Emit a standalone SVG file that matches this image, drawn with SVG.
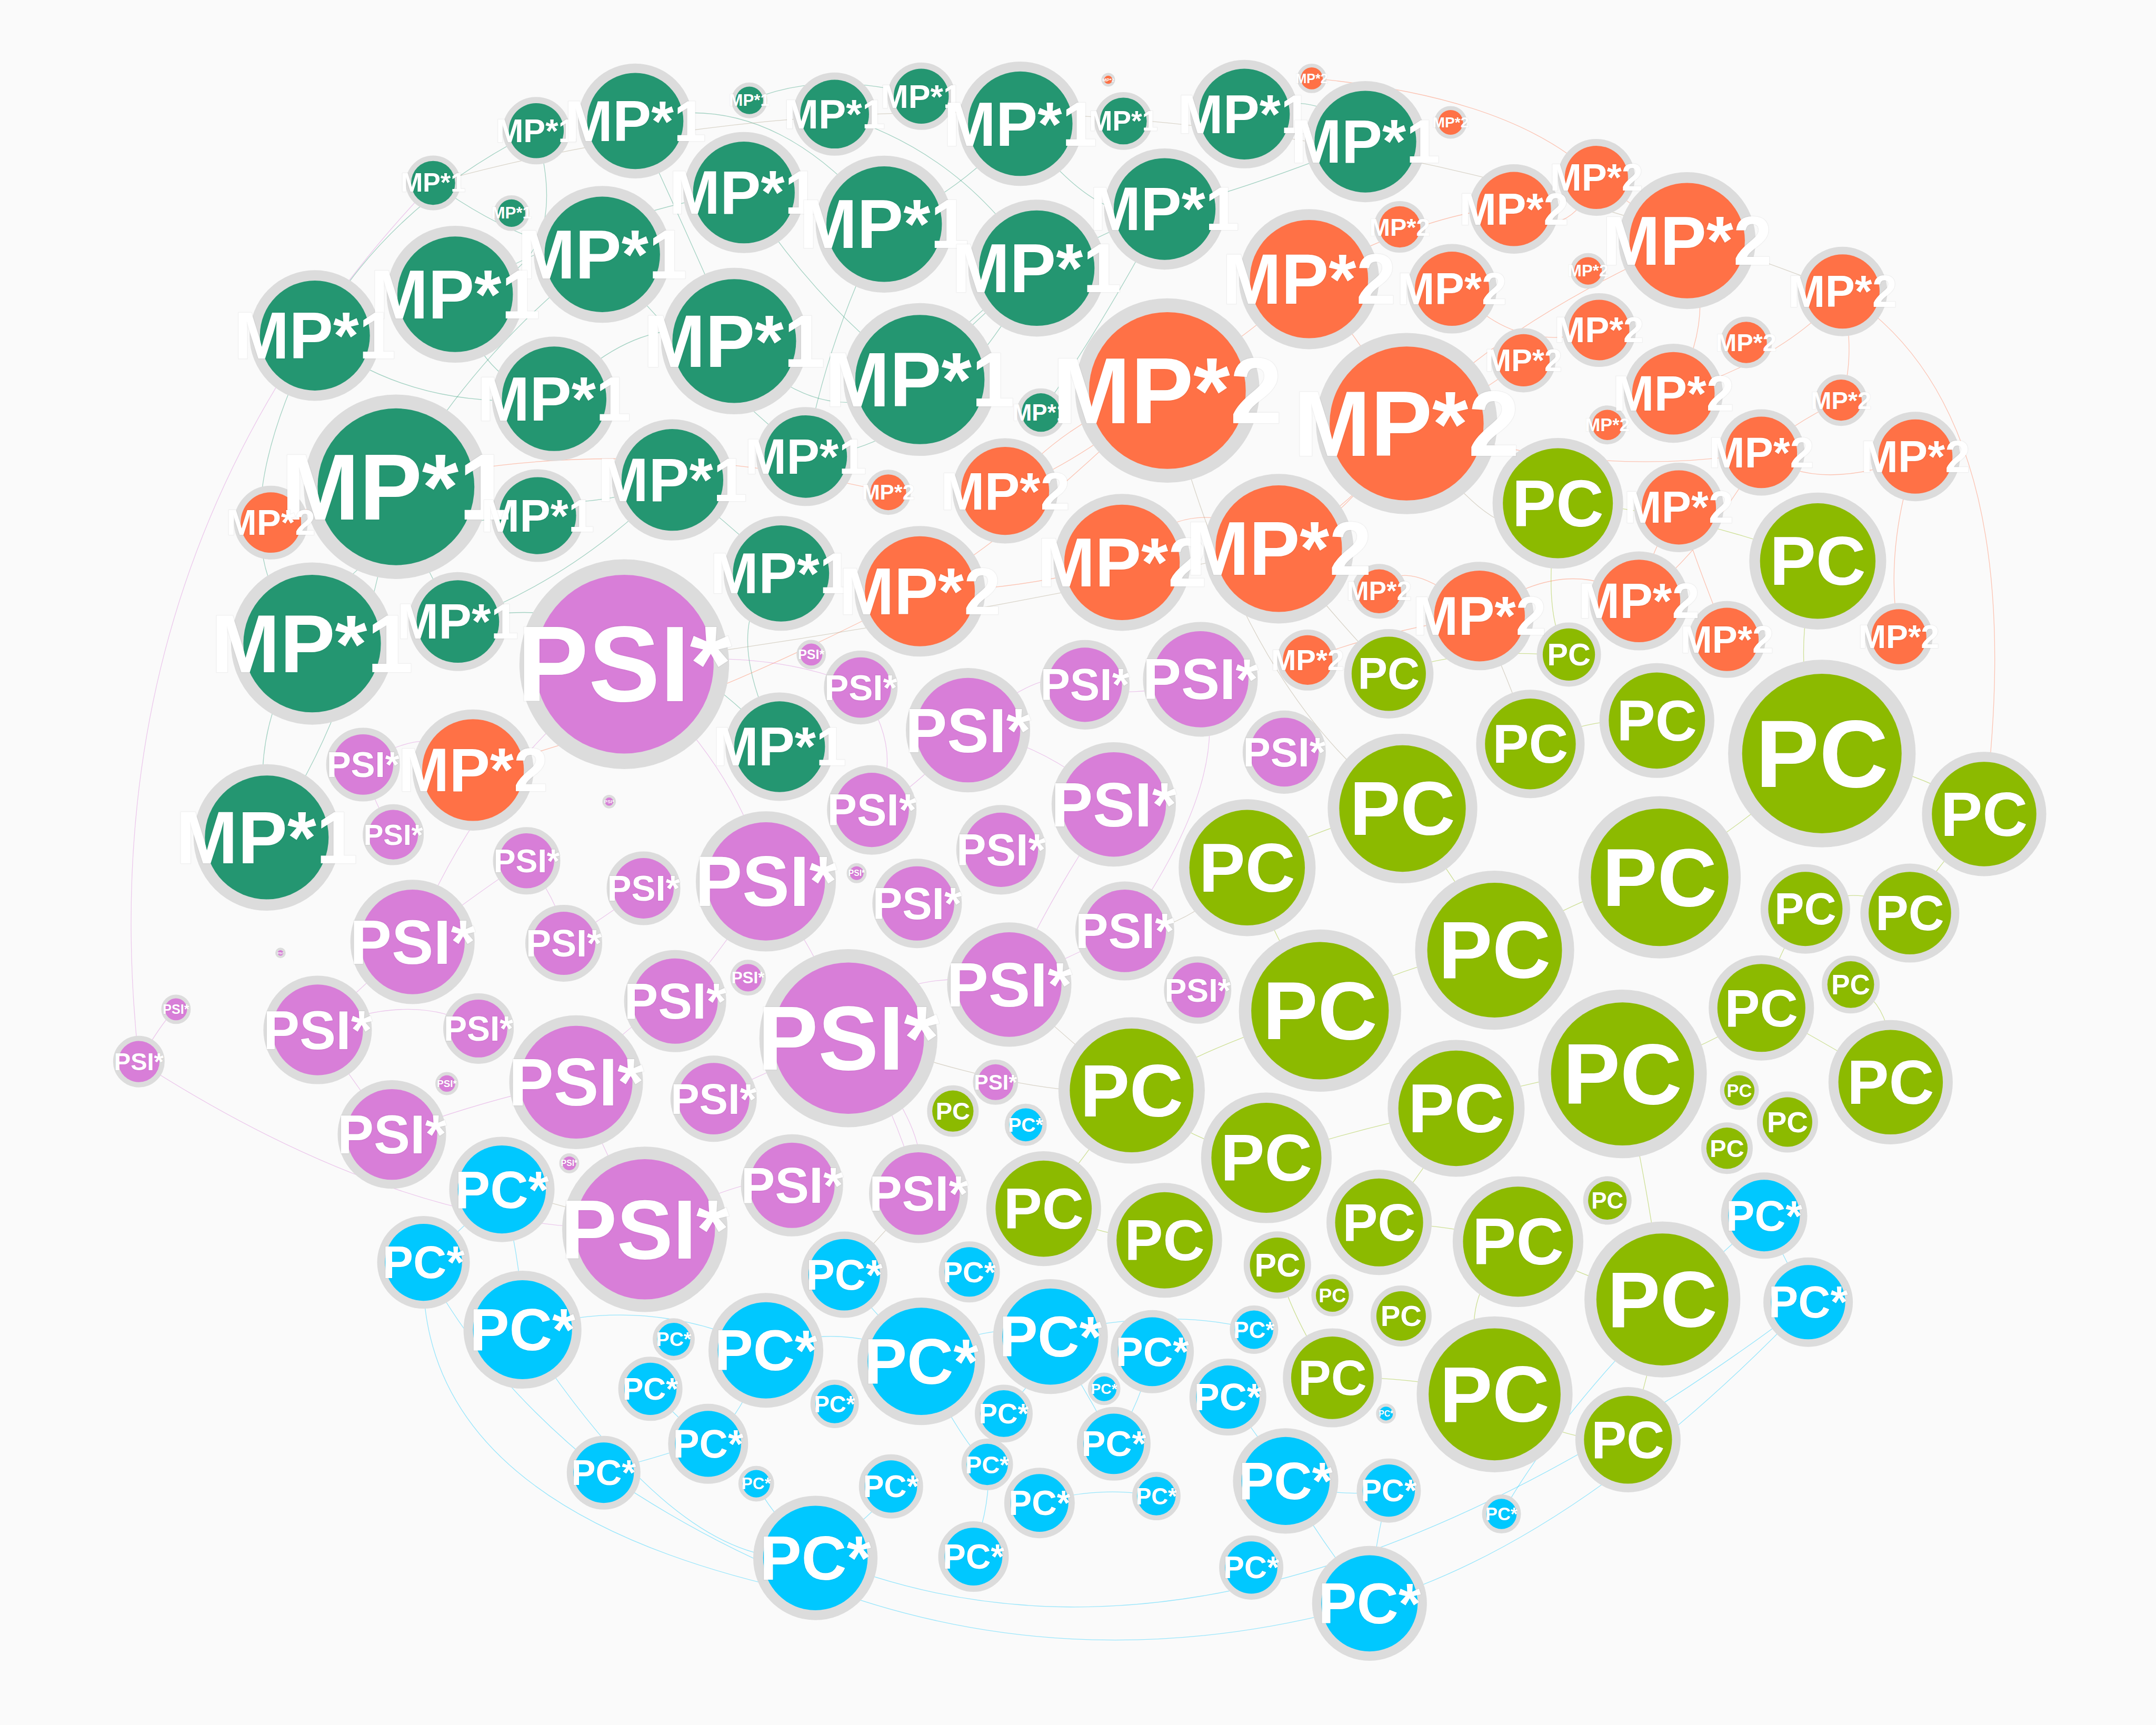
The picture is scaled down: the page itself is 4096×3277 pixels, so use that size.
<svg xmlns="http://www.w3.org/2000/svg" width="4096" height="3277" viewBox="0 0 4096 3277">
<style>
.n circle{stroke:#dcdcdc;paint-order:stroke}
.m1 circle{fill:#249671}
.m2 circle{fill:#ff7146}
.ps circle{fill:#d87ed8}
.pk circle{fill:#00c8ff}
.pc circle{fill:#8cba00}
#labels text{font-family:"Liberation Sans",Arial,sans-serif;font-weight:700;fill:#fff;text-anchor:middle;dominant-baseline:central;stroke:#000;stroke-opacity:.035;stroke-width:1.2;paint-order:stroke;stroke-linejoin:round}
#connectors path{fill:none;stroke-width:.5;opacity:.4}
.e1{stroke:#249671}.e2{stroke:#ff7146}.e3{stroke:#d87ed8}.e4{stroke:#00c8ff}.e5{stroke:#8cba00}.e0{stroke:#a89a80}
</style>
<rect width="4096" height="3277" fill="#fafafa"/>
<g transform="scale(2.61224)">
<g id="connectors">
<path class="e1" d="M288 354 Q350 250 438 185"/>
<path class="e1" d="M229 244 Q300 300 403 290"/>
<path class="e1" d="M331 214 Q450 150 541 140"/>
<path class="e1" d="M462 88 Q560 60 643 163"/>
<path class="e1" d="M742 90 Q800 170 847 152"/>
<path class="e1" d="M534 248 Q600 320 669 276"/>
<path class="e1" d="M489 349 Q420 420 333 452"/>
<path class="e1" d="M227 468 Q250 380 391 375"/>
<path class="e1" d="M194 609 Q260 520 288 354"/>
<path class="e1" d="M567 543 Q520 450 568 417"/>
<path class="e1" d="M586 332 Q680 330 754 195"/>
<path class="e1" d="M403 290 Q470 220 534 248"/>
<path class="e1" d="M315 133 Q380 180 438 185"/>
<path class="e1" d="M905 83 Q960 60 993 103"/>
<path class="e1" d="M607 83 Q700 110 754 195"/>
<path class="e1" d="M390 95 Q420 200 331 214"/>
<path class="e1" d="M669 276 Q720 200 847 152"/>
<path class="e1" d="M288 354 Q420 380 489 349"/>
<path class="e1" d="M227 468 Q150 400 229 244"/>
<path class="e1" d="M541 140 Q600 230 669 276"/>
<path class="e1" d="M438 185 Q500 260 586 332"/>
<path class="e1" d="M333 452 Q450 420 567 543"/>
<path class="e1" d="M229 244 Q280 150 390 95"/>
<path class="e1" d="M462 88 Q500 170 534 248"/>
<path class="e1" d="M643 163 Q600 250 586 332"/>
<path class="e1" d="M754 195 Q700 240 669 276"/>
<path class="e1" d="M847 152 Q800 240 757 300"/>
<path class="e1" d="M993 103 Q900 140 847 152"/>
<path class="e1" d="M331 214 Q350 280 403 290"/>
<path class="e1" d="M194 609 Q180 520 227 468"/>
<path class="e1" d="M568 417 Q530 380 489 349"/>
<path class="e1" d="M333 452 Q300 400 288 354"/>
<path class="e1" d="M545 73 Q600 50 670 70"/>
<path class="e1" d="M742 90 Q700 140 643 163"/>
<path class="e2" d="M848 282 Q930 230 952 200"/>
<path class="e2" d="M1023 306 Q1100 230 1227 175"/>
<path class="e2" d="M952 200 Q1050 150 1101 152"/>
<path class="e2" d="M815 408 Q870 350 929 398"/>
<path class="e2" d="M669 430 Q750 380 848 282"/>
<path class="e2" d="M1075 448 Q1140 400 1192 437"/>
<path class="e2" d="M1023 306 Q1150 350 1281 329"/>
<path class="e2" d="M1217 286 Q1300 260 1340 212"/>
<path class="e2" d="M1056 206 Q1100 260 1163 240"/>
<path class="e2" d="M929 398 Q1000 360 1023 306"/>
<path class="e2" d="M731 357 Q780 300 848 282"/>
<path class="e2" d="M1393 332 Q1370 400 1381 463"/>
<path class="e2" d="M1256 465 Q1230 400 1221 369"/>
<path class="e2" d="M1161 129 Q1200 160 1227 175"/>
<path class="e2" d="M344 560 Q500 520 669 430"/>
<path class="e2" d="M197 380 Q400 300 646 358"/>
<path class="e2" d="M950 480 Q1000 460 1075 448"/>
<path class="e2" d="M1108 262 Q1060 300 1023 306"/>
<path class="e2" d="M1339 291 Q1300 310 1281 329"/>
<path class="e2" d="M954 57 Q1100 70 1161 129"/>
<path class="e2" d="M849 284 Q780 340 731 357"/>
<path class="e2" d="M1023 308 Q980 380 930 399"/>
<path class="e2" d="M1227 175 Q1250 230 1217 286"/>
<path class="e2" d="M1101 152 Q1140 180 1161 129"/>
<path class="e2" d="M1340 212 Q1350 260 1339 291"/>
<path class="e2" d="M1192 437 Q1240 400 1281 329"/>
<path class="e2" d="M1076 448 Q1020 400 1003 430"/>
<path class="e2" d="M669 430 Q740 430 816 409"/>
<path class="e2" d="M952 203 Q1000 260 1023 308"/>
<path class="e2" d="M1393 332 Q1320 360 1281 329"/>
<path class="e2" d="M1221 369 Q1200 400 1192 437"/>
<path class="e3" d="M455 483 Q540 560 557 641"/>
<path class="e3" d="M616 752 Q650 700 734 716"/>
<path class="e3" d="M468 893 Q550 850 576 861"/>
<path class="e3" d="M300 685 Q360 640 383 626"/>
<path class="e3" d="M231 749 Q300 720 347 747"/>
<path class="e3" d="M420 786 Q460 740 491 727"/>
<path class="e3" d="M704 531 Q760 540 810 585"/>
<path class="e3" d="M626 500 Q660 550 634 589"/>
<path class="e3" d="M873 494 Q900 560 818 677"/>
<path class="e3" d="M285 825 Q350 800 420 786"/>
<path class="e3" d="M557 641 Q600 700 616 752"/>
<path class="e3" d="M101 772 Q120 740 128 734"/>
<path class="e3" d="M264 556 Q270 580 286 607"/>
<path class="e3" d="M668 868 Q650 800 616 752"/>
<path class="e3" d="M410 686 Q450 660 468 646"/>
<path class="e3" d="M517 798 Q560 780 616 752"/>
<path class="e3" d="M734 716 Q790 690 818 677"/>
<path class="e3" d="M789 498 Q760 480 704 531"/>
<path class="e3" d="M455 483 Q350 560 300 685"/>
<path class="e3" d="M101 772 Q300 900 468 893"/>
<path class="e3" d="M704 531 Q660 580 634 589"/>
<path class="e3" d="M810 585 Q770 640 734 716"/>
<path class="e3" d="M557 641 Q520 700 491 728"/>
<path class="e3" d="M469 894 Q440 840 419 787"/>
<path class="e3" d="M300 685 Q260 720 231 749"/>
<path class="e3" d="M285 825 Q260 790 231 749"/>
<path class="e3" d="M617 755 Q680 820 668 868"/>
<path class="e3" d="M873 494 Q820 510 789 498"/>
<path class="e3" d="M626 500 Q560 470 454 483"/>
<path class="e3" d="M383 626 Q410 660 410 686"/>
<path class="e4" d="M365 864 Q330 900 308 918"/>
<path class="e4" d="M380 967 Q470 940 556 981"/>
<path class="e4" d="M556 981 Q610 960 668 987"/>
<path class="e4" d="M668 987 Q720 960 763 970"/>
<path class="e4" d="M593 1131 Q640 1100 648 1081"/>
<path class="e4" d="M935 1077 Q960 1120 996 1166"/>
<path class="e4" d="M515 1047 Q480 1060 438 1070"/>
<path class="e4" d="M810 1050 Q830 1020 838 983"/>
<path class="e4" d="M612 925 Q640 960 668 987"/>
<path class="e4" d="M754 1093 Q800 1080 841 1088"/>
<path class="e4" d="M893 1016 Q920 1050 935 1077"/>
<path class="e4" d="M706 1132 Q720 1100 719 1065"/>
<path class="e4" d="M380 967 Q500 1150 593 1131"/>
<path class="e4" d="M308 918 Q300 1100 593 1160"/>
<path class="e4" d="M1283 884 Q1300 920 1315 947"/>
<path class="e4" d="M996 1166 Q1150 1120 1315 947"/>
<path class="e4" d="M438 1070 Q700 1250 996 1166"/>
<path class="e4" d="M763 970 Q850 950 912 967"/>
<path class="e4" d="M473 1009 Q500 1040 515 1047"/>
<path class="e4" d="M729 1027 Q760 1000 763 970"/>
<path class="e4" d="M365 865 Q380 920 380 967"/>
<path class="e4" d="M557 982 Q540 1030 515 1050"/>
<path class="e4" d="M670 990 Q700 1050 718 1065"/>
<path class="e4" d="M764 972 Q790 1010 810 1050"/>
<path class="e4" d="M935 1077 Q970 1090 1010 1084"/>
<path class="e4" d="M593 1133 Q560 1100 550 1079"/>
<path class="e4" d="M996 1166 Q1000 1120 1010 1084"/>
<path class="e4" d="M308 918 Q350 1000 439 1071"/>
<path class="e4" d="M1283 884 Q1150 1000 1092 1101"/>
<path class="e5" d="M1325 548 Q1270 600 1207 637"/>
<path class="e5" d="M1088 690 Q1150 650 1207 637"/>
<path class="e5" d="M960 735 Q1020 700 1088 690"/>
<path class="e5" d="M823 793 Q880 760 960 735"/>
<path class="e5" d="M1180 781 Q1250 760 1281 733"/>
<path class="e5" d="M1059 806 Q1120 780 1180 781"/>
<path class="e5" d="M921 842 Q990 820 1059 806"/>
<path class="e5" d="M1104 903 Q1150 930 1209 945"/>
<path class="e5" d="M1087 1014 Q1050 950 1104 903"/>
<path class="e5" d="M1020 588 Q1060 640 1088 690"/>
<path class="e5" d="M908 630 Q960 600 1020 588"/>
<path class="e5" d="M1133 365 Q1220 370 1322 408"/>
<path class="e5" d="M1443 592 Q1400 640 1389 664"/>
<path class="e5" d="M1375 787 Q1380 730 1346 716"/>
<path class="e5" d="M759 879 Q800 900 847 902"/>
<path class="e5" d="M969 1002 Q1020 1000 1087 1014"/>
<path class="e5" d="M1184 1047 Q1200 1000 1209 945"/>
<path class="e5" d="M1113 541 Q1160 520 1205 524"/>
<path class="e5" d="M1010 491 Q1060 470 1141 477"/>
<path class="e5" d="M1003 889 Q1050 890 1104 903"/>
<path class="e5" d="M1313 661 Q1290 700 1281 733"/>
<path class="e5" d="M1322 408 Q1300 480 1325 548"/>
<path class="e5" d="M1133 366 Q1120 450 1141 476"/>
<path class="e5" d="M907 631 Q930 690 960 735"/>
<path class="e5" d="M823 793 Q860 830 921 842"/>
<path class="e5" d="M759 879 Q790 840 823 793"/>
<path class="e5" d="M1209 945 Q1200 870 1180 781"/>
<path class="e5" d="M1375 787 Q1330 760 1281 733"/>
<path class="e5" d="M1443 592 Q1400 560 1325 548"/>
<path class="e5" d="M1087 1014 Q1130 1050 1184 1047"/>
<path class="e5" d="M969 1002 Q940 960 929 920"/>
<path class="e5" d="M1003 889 Q1040 850 1059 806"/>
<path class="e5" d="M1389 664 Q1350 640 1313 661"/>
<path class="e0" d="M455 483 Q700 450 929 398"/>
<path class="e0" d="M848 282 Q900 500 1020 588"/>
<path class="e0" d="M616 752 Q750 800 823 793"/>
<path class="e0" d="M1023 306 Q1100 420 1133 365"/>
<path class="e0" d="M315 133 Q800 0 1340 212"/>
<path class="e0" d="M930 399 Q980 460 1010 490"/>
<path class="e0" d="M1076 448 Q1100 500 1113 541"/>
<path class="e0" d="M818 677 Q860 680 907 631"/>
<path class="e0" d="M734 716 Q780 760 823 793"/>
<path class="e0" d="M469 894 Q420 880 365 865"/>
<path class="e0" d="M668 868 Q640 900 614 927"/>
<path class="e3" d="M264 556 Q320 520 344 560"/>
<path class="e3" d="M101 772 Q60 400 315 133"/>
<path class="e4" d="M593 1131 Q900 1260 1315 947"/>
<path class="e2" d="M1443 592 Q1480 300 1340 212"/>
</g>
<g id="nodes">
<g id="a1" class="n m1"><circle cx="390" cy="95" r="20" stroke-width="9"/></g>
<g id="a2" class="n m1"><circle cx="462" cy="88" r="35" stroke-width="13.5"/></g>
<g id="a3" class="n m1"><circle cx="545" cy="73" r="10" stroke-width="6"/></g>
<g id="a4" class="n m1"><circle cx="607" cy="83" r="25" stroke-width="10.5"/></g>
<g id="a5" class="n m1"><circle cx="670" cy="70" r="20" stroke-width="9"/></g>
<g id="a6" class="n m1"><circle cx="742" cy="90" r="38" stroke-width="14.4"/></g>
<g id="a7" class="n m1"><circle cx="817" cy="88" r="17" stroke-width="8.1"/></g>
<g id="a8" class="n m1"><circle cx="905" cy="83" r="33" stroke-width="12.9"/></g>
<g id="a9" class="n m1"><circle cx="993" cy="103" r="37" stroke-width="14.1"/></g>
<g id="a10" class="n m1"><circle cx="315" cy="133" r="16" stroke-width="7.8"/></g>
<g id="a11" class="n m1"><circle cx="372" cy="155" r="10" stroke-width="6"/></g>
<g id="a12" class="n m1"><circle cx="438" cy="185" r="42" stroke-width="15.6"/></g>
<g id="a13" class="n m1"><circle cx="541" cy="140" r="37" stroke-width="14.1"/></g>
<g id="a14" class="n m1"><circle cx="643" cy="163" r="42" stroke-width="15.6"/></g>
<g id="a15" class="n m1"><circle cx="754" cy="195" r="42" stroke-width="15.6"/></g>
<g id="a16" class="n m1"><circle cx="847" cy="152" r="37" stroke-width="14.1"/></g>
<g id="a17" class="n m1"><circle cx="331" cy="214" r="42" stroke-width="15.6"/></g>
<g id="a18" class="n m1"><circle cx="229" cy="244" r="40" stroke-width="15"/></g>
<g id="a19" class="n m1"><circle cx="534" cy="248" r="45" stroke-width="16.5"/></g>
<g id="a20" class="n m1"><circle cx="669" cy="276" r="47" stroke-width="17.1"/></g>
<g id="a21" class="n m1"><circle cx="403" cy="290" r="38" stroke-width="14.4"/></g>
<g id="a22" class="n m1"><circle cx="489" cy="349" r="37" stroke-width="14.1"/></g>
<g id="a23" class="n m1"><circle cx="586" cy="332" r="30" stroke-width="12"/></g>
<g id="a24" class="n m1"><circle cx="757" cy="300" r="14" stroke-width="7.2"/></g>
<g id="a25" class="n m1"><circle cx="288" cy="354" r="57" stroke-width="20.1"/></g>
<g id="a26" class="n m1"><circle cx="391" cy="375" r="28" stroke-width="11.4"/></g>
<g id="a27" class="n m1"><circle cx="568" cy="417" r="35" stroke-width="13.5"/></g>
<g id="a28" class="n m1"><circle cx="227" cy="468" r="50" stroke-width="18"/></g>
<g id="a29" class="n m1"><circle cx="333" cy="452" r="30" stroke-width="12"/></g>
<g id="a30" class="n m1"><circle cx="567" cy="543" r="33" stroke-width="12.9"/></g>
<g id="a31" class="n m1"><circle cx="194" cy="609" r="45" stroke-width="16.5"/></g>
<g id="b1" class="n m2"><circle cx="806" cy="58" r="3" stroke-width="3.9"/></g>
<g id="b2" class="n m2"><circle cx="954" cy="57" r="8" stroke-width="5.4"/></g>
<g id="b3" class="n m2"><circle cx="1055" cy="89" r="9" stroke-width="5.7"/></g>
<g id="b4" class="n m2"><circle cx="1161" cy="129" r="23" stroke-width="9.9"/></g>
<g id="b5" class="n m2"><circle cx="1101" cy="152" r="27" stroke-width="11.1"/></g>
<g id="b6" class="n m2"><circle cx="1227" cy="175" r="42" stroke-width="15.6"/></g>
<g id="b7" class="n m2"><circle cx="952" cy="203" r="43" stroke-width="15.9"/></g>
<g id="b8" class="n m2"><circle cx="1056" cy="210" r="27" stroke-width="11.1"/></g>
<g id="b9" class="n m2"><circle cx="1018" cy="165" r="15" stroke-width="7.5"/></g>
<g id="b10" class="n m2"><circle cx="1155" cy="197" r="10" stroke-width="6"/></g>
<g id="b11" class="n m2"><circle cx="1340" cy="212" r="27" stroke-width="11.1"/></g>
<g id="b12" class="n m2"><circle cx="1108" cy="262" r="19" stroke-width="8.7"/></g>
<g id="b13" class="n m2"><circle cx="1163" cy="240" r="22" stroke-width="9.6"/></g>
<g id="b14" class="n m2"><circle cx="1270" cy="249" r="15" stroke-width="7.5"/></g>
<g id="b15" class="n m2"><circle cx="849" cy="284" r="57" stroke-width="20.1"/></g>
<g id="b16" class="n m2"><circle cx="1023" cy="308" r="56" stroke-width="19.8"/></g>
<g id="b17" class="n m2"><circle cx="1217" cy="286" r="30" stroke-width="12"/></g>
<g id="b18" class="n m2"><circle cx="1339" cy="291" r="15" stroke-width="7.5"/></g>
<g id="b19" class="n m2"><circle cx="1169" cy="309" r="11" stroke-width="6.3"/></g>
<g id="b20" class="n m2"><circle cx="1281" cy="329" r="26" stroke-width="10.8"/></g>
<g id="b21" class="n m2"><circle cx="1393" cy="332" r="27" stroke-width="11.1"/></g>
<g id="b22" class="n m2"><circle cx="731" cy="357" r="32" stroke-width="12.6"/></g>
<g id="b23" class="n m2"><circle cx="646" cy="358" r="13" stroke-width="6.9"/></g>
<g id="b24" class="n m2"><circle cx="1221" cy="369" r="27" stroke-width="11.1"/></g>
<g id="b25" class="n m2"><circle cx="197" cy="380" r="22" stroke-width="9.6"/></g>
<g id="b26" class="n m2"><circle cx="816" cy="409" r="42" stroke-width="15.6"/></g>
<g id="b27" class="n m2"><circle cx="930" cy="399" r="46" stroke-width="16.8"/></g>
<g id="b28" class="n m2"><circle cx="669" cy="430" r="40" stroke-width="15"/></g>
<g id="b29" class="n m2"><circle cx="1003" cy="430" r="16" stroke-width="7.8"/></g>
<g id="b30" class="n m2"><circle cx="1076" cy="448" r="33" stroke-width="12.9"/></g>
<g id="b31" class="n m2"><circle cx="1192" cy="437" r="30" stroke-width="12"/></g>
<g id="b32" class="n m2"><circle cx="951" cy="480" r="18" stroke-width="8.4"/></g>
<g id="b33" class="n m2"><circle cx="1256" cy="465" r="23" stroke-width="9.9"/></g>
<g id="b34" class="n m2"><circle cx="1381" cy="463" r="20" stroke-width="9"/></g>
<g id="b35" class="n m2"><circle cx="344" cy="560" r="37" stroke-width="14.1"/></g>
<g id="c1" class="n pc"><circle cx="1133" cy="366" r="40" stroke-width="15"/></g>
<g id="c2" class="n pc"><circle cx="1322" cy="408" r="42" stroke-width="15.6"/></g>
<g id="c3" class="n pc"><circle cx="1010" cy="490" r="27" stroke-width="11.1"/></g>
<g id="c4" class="n pc"><circle cx="1141" cy="476" r="19" stroke-width="8.7"/></g>
<g id="c5" class="n pc"><circle cx="1113" cy="541" r="33" stroke-width="12.9"/></g>
<g id="c6" class="n pc"><circle cx="1205" cy="524" r="35" stroke-width="13.5"/></g>
<g id="c7" class="n pc"><circle cx="1325" cy="548" r="58" stroke-width="20.4"/></g>
<g id="c8" class="n pc"><circle cx="1020" cy="588" r="46" stroke-width="16.8"/></g>
<g id="c9" class="n pc"><circle cx="1443" cy="592" r="38" stroke-width="14.4"/></g>
<g id="c10" class="n pc"><circle cx="907" cy="631" r="42" stroke-width="15.6"/></g>
<g id="c11" class="n pc"><circle cx="1207" cy="638" r="50" stroke-width="18"/></g>
<g id="c12" class="n pc"><circle cx="1087" cy="691" r="49" stroke-width="17.7"/></g>
<g id="c13" class="n pc"><circle cx="1313" cy="661" r="27" stroke-width="11.1"/></g>
<g id="c14" class="n pc"><circle cx="1389" cy="664" r="30" stroke-width="12"/></g>
<g id="c15" class="n pc"><circle cx="960" cy="735" r="50" stroke-width="18"/></g>
<g id="c16" class="n pc"><circle cx="1346" cy="716" r="17" stroke-width="8.1"/></g>
<g id="c17" class="n pc"><circle cx="1281" cy="733" r="32" stroke-width="12.6"/></g>
<g id="c18" class="n pc"><circle cx="823" cy="793" r="45" stroke-width="16.5"/></g>
<g id="c19" class="n pc"><circle cx="1059" cy="806" r="42" stroke-width="15.6"/></g>
<g id="c20" class="n pc"><circle cx="1180" cy="781" r="52" stroke-width="18.6"/></g>
<g id="c21" class="n pc"><circle cx="1375" cy="787" r="38" stroke-width="14.4"/></g>
<g id="c22" class="n pc"><circle cx="693" cy="808" r="15" stroke-width="7.5"/></g>
<g id="c23" class="n pc"><circle cx="1265" cy="793" r="11" stroke-width="6.3"/></g>
<g id="c24" class="n pc"><circle cx="1300" cy="816" r="18" stroke-width="8.4"/></g>
<g id="c25" class="n pc"><circle cx="921" cy="842" r="40" stroke-width="15"/></g>
<g id="c26" class="n pc"><circle cx="1256" cy="835" r="15" stroke-width="7.5"/></g>
<g id="c27" class="n pc"><circle cx="759" cy="879" r="35" stroke-width="13.5"/></g>
<g id="c28" class="n pc"><circle cx="847" cy="902" r="35" stroke-width="13.5"/></g>
<g id="c29" class="n pc"><circle cx="1003" cy="889" r="32" stroke-width="12.6"/></g>
<g id="c30" class="n pc"><circle cx="1104" cy="903" r="40" stroke-width="15"/></g>
<g id="c31" class="n pc"><circle cx="1169" cy="873" r="14" stroke-width="7.2"/></g>
<g id="c32" class="n pc"><circle cx="1209" cy="945" r="48" stroke-width="17.4"/></g>
<g id="c33" class="n pc"><circle cx="929" cy="920" r="20" stroke-width="9"/></g>
<g id="c34" class="n pc"><circle cx="969" cy="942" r="12" stroke-width="6.6"/></g>
<g id="c35" class="n pc"><circle cx="1019" cy="957" r="18" stroke-width="8.4"/></g>
<g id="c36" class="n pc"><circle cx="969" cy="1002" r="30" stroke-width="12"/></g>
<g id="c37" class="n pc"><circle cx="1087" cy="1014" r="48" stroke-width="17.4"/></g>
<g id="c38" class="n pc"><circle cx="1184" cy="1047" r="32" stroke-width="12.6"/></g>
<g id="d1" class="n ps"><circle cx="454" cy="483" r="65" stroke-width="22.5"/></g>
<g id="d2" class="n ps"><circle cx="590" cy="476" r="8" stroke-width="5.4"/></g>
<g id="d3" class="n ps"><circle cx="626" cy="500" r="22" stroke-width="9.6"/></g>
<g id="d4" class="n ps"><circle cx="704" cy="531" r="38" stroke-width="14.4"/></g>
<g id="d5" class="n ps"><circle cx="789" cy="498" r="27" stroke-width="11.1"/></g>
<g id="d6" class="n ps"><circle cx="873" cy="494" r="35" stroke-width="13.5"/></g>
<g id="d7" class="n ps"><circle cx="934" cy="547" r="25" stroke-width="10.5"/></g>
<g id="d8" class="n ps"><circle cx="264" cy="556" r="22" stroke-width="9.6"/></g>
<g id="d9" class="n ps"><circle cx="286" cy="607" r="18" stroke-width="8.4"/></g>
<g id="d10" class="n ps"><circle cx="443" cy="583" r="3" stroke-width="3.9"/></g>
<g id="d11" class="n ps"><circle cx="634" cy="589" r="27" stroke-width="11.1"/></g>
<g id="d12" class="n ps"><circle cx="810" cy="585" r="38" stroke-width="14.4"/></g>
<g id="d13" class="n ps"><circle cx="383" cy="626" r="20" stroke-width="9"/></g>
<g id="d14" class="n ps"><circle cx="468" cy="646" r="22" stroke-width="9.6"/></g>
<g id="d15" class="n ps"><circle cx="557" cy="641" r="43" stroke-width="15.9"/></g>
<g id="d16" class="n ps"><circle cx="623" cy="635" r="5" stroke-width="4.5"/></g>
<g id="d17" class="n ps"><circle cx="667" cy="657" r="27" stroke-width="11.1"/></g>
<g id="d18" class="n ps"><circle cx="728" cy="618" r="27" stroke-width="11.1"/></g>
<g id="d19" class="n ps"><circle cx="818" cy="677" r="30" stroke-width="12"/></g>
<g id="d20" class="n ps"><circle cx="300" cy="685" r="38" stroke-width="14.4"/></g>
<g id="d21" class="n ps"><circle cx="410" cy="686" r="23" stroke-width="9.9"/></g>
<g id="d22" class="n ps"><circle cx="491" cy="728" r="31" stroke-width="12.3"/></g>
<g id="d23" class="n ps"><circle cx="544" cy="711" r="10" stroke-width="6"/></g>
<g id="d24" class="n ps"><circle cx="734" cy="716" r="38" stroke-width="14.4"/></g>
<g id="d25" class="n ps"><circle cx="871" cy="720" r="20" stroke-width="9"/></g>
<g id="d26" class="n ps"><circle cx="617" cy="755" r="55" stroke-width="19.5"/></g>
<g id="d27" class="n ps"><circle cx="231" cy="749" r="33" stroke-width="12.9"/></g>
<g id="d28" class="n ps"><circle cx="348" cy="748" r="21" stroke-width="9.3"/></g>
<g id="d29" class="n ps"><circle cx="419" cy="787" r="41" stroke-width="15.3"/></g>
<g id="d30" class="n ps"><circle cx="519" cy="799" r="26" stroke-width="10.8"/></g>
<g id="d31" class="n ps"><circle cx="325" cy="788" r="6" stroke-width="4.8"/></g>
<g id="d32" class="n ps"><circle cx="724" cy="787" r="13" stroke-width="6.9"/></g>
<g id="d33" class="n ps"><circle cx="128" cy="734" r="8" stroke-width="5.4"/></g>
<g id="d34" class="n ps"><circle cx="101" cy="772" r="15" stroke-width="7.5"/></g>
<g id="d35" class="n ps"><circle cx="285" cy="825" r="33" stroke-width="12.9"/></g>
<g id="d36" class="n ps"><circle cx="204" cy="693" r="2" stroke-width="3.6"/></g>
<g id="d37" class="n ps"><circle cx="414" cy="846" r="5" stroke-width="4.5"/></g>
<g id="d38" class="n ps"><circle cx="469" cy="894" r="51" stroke-width="18.3"/></g>
<g id="d39" class="n ps"><circle cx="576" cy="862" r="31" stroke-width="12.3"/></g>
<g id="d40" class="n ps"><circle cx="668" cy="868" r="30" stroke-width="12"/></g>
<g id="e1" class="n pk"><circle cx="365" cy="865" r="32" stroke-width="12.6"/></g>
<g id="e2" class="n pk"><circle cx="308" cy="918" r="28" stroke-width="11.4"/></g>
<g id="e3" class="n pk"><circle cx="380" cy="967" r="36" stroke-width="13.8"/></g>
<g id="e4" class="n pk"><circle cx="746" cy="818" r="12" stroke-width="6.6"/></g>
<g id="e5" class="n pk"><circle cx="614" cy="927" r="26" stroke-width="10.8"/></g>
<g id="e6" class="n pk"><circle cx="705" cy="925" r="18" stroke-width="8.4"/></g>
<g id="e7" class="n pk"><circle cx="490" cy="974" r="12" stroke-width="6.6"/></g>
<g id="e8" class="n pk"><circle cx="557" cy="982" r="35" stroke-width="13.5"/></g>
<g id="e9" class="n pk"><circle cx="670" cy="990" r="39" stroke-width="14.7"/></g>
<g id="e10" class="n pk"><circle cx="764" cy="972" r="35" stroke-width="13.5"/></g>
<g id="e11" class="n pk"><circle cx="838" cy="983" r="25" stroke-width="10.5"/></g>
<g id="e12" class="n pk"><circle cx="912" cy="967" r="14" stroke-width="7.2"/></g>
<g id="e13" class="n pk"><circle cx="473" cy="1010" r="19" stroke-width="8.7"/></g>
<g id="e14" class="n pk"><circle cx="607" cy="1021" r="14" stroke-width="7.2"/></g>
<g id="e15" class="n pk"><circle cx="730" cy="1028" r="17" stroke-width="8.1"/></g>
<g id="e16" class="n pk"><circle cx="803" cy="1010" r="9" stroke-width="5.7"/></g>
<g id="e17" class="n pk"><circle cx="893" cy="1016" r="23" stroke-width="9.9"/></g>
<g id="e18" class="n pk"><circle cx="1008" cy="1028" r="5" stroke-width="4.5"/></g>
<g id="e19" class="n pk"><circle cx="515" cy="1050" r="24" stroke-width="10.2"/></g>
<g id="e20" class="n pk"><circle cx="810" cy="1050" r="22" stroke-width="9.6"/></g>
<g id="e21" class="n pk"><circle cx="718" cy="1065" r="15" stroke-width="7.5"/></g>
<g id="e22" class="n pk"><circle cx="550" cy="1079" r="10" stroke-width="6"/></g>
<g id="e23" class="n pk"><circle cx="439" cy="1071" r="22" stroke-width="9.6"/></g>
<g id="e24" class="n pk"><circle cx="648" cy="1081" r="19" stroke-width="8.7"/></g>
<g id="e25" class="n pk"><circle cx="756" cy="1093" r="21" stroke-width="9.3"/></g>
<g id="e26" class="n pk"><circle cx="841" cy="1088" r="14" stroke-width="7.2"/></g>
<g id="e27" class="n pk"><circle cx="935" cy="1077" r="32" stroke-width="12.6"/></g>
<g id="e28" class="n pk"><circle cx="1010" cy="1084" r="19" stroke-width="8.7"/></g>
<g id="e29" class="n pk"><circle cx="1092" cy="1101" r="11" stroke-width="6.3"/></g>
<g id="e30" class="n pk"><circle cx="593" cy="1133" r="38" stroke-width="14.4"/></g>
<g id="e31" class="n pk"><circle cx="708" cy="1132" r="21" stroke-width="9.3"/></g>
<g id="e32" class="n pk"><circle cx="910" cy="1140" r="19" stroke-width="8.7"/></g>
<g id="e33" class="n pk"><circle cx="996" cy="1166" r="35" stroke-width="13.5"/></g>
<g id="e34" class="n pk"><circle cx="1283" cy="884" r="26" stroke-width="10.8"/></g>
<g id="e35" class="n pk"><circle cx="1315" cy="947" r="27" stroke-width="11.1"/></g>
</g>
<g id="labels">
<text x="390" y="95" font-size="24">MP*1</text>
<text x="462" y="88" font-size="42">MP*1</text>
<text x="545" y="73" font-size="12">MP*1</text>
<text x="607" y="83" font-size="30">MP*1</text>
<text x="670" y="70" font-size="24">MP*1</text>
<text x="742" y="90" font-size="45.6">MP*1</text>
<text x="817" y="88" font-size="20.4">MP*1</text>
<text x="905" y="83" font-size="39.6">MP*1</text>
<text x="993" y="103" font-size="44.4">MP*1</text>
<text x="315" y="133" font-size="19.2">MP*1</text>
<text x="372" y="155" font-size="12">MP*1</text>
<text x="438" y="185" font-size="50.4">MP*1</text>
<text x="541" y="140" font-size="44.4">MP*1</text>
<text x="643" y="163" font-size="50.4">MP*1</text>
<text x="754" y="195" font-size="50.4">MP*1</text>
<text x="847" y="152" font-size="44.4">MP*1</text>
<text x="331" y="214" font-size="50.4">MP*1</text>
<text x="229" y="244" font-size="48">MP*1</text>
<text x="534" y="248" font-size="54">MP*1</text>
<text x="669" y="276" font-size="56.4">MP*1</text>
<text x="403" y="290" font-size="45.6">MP*1</text>
<text x="489" y="349" font-size="44.4">MP*1</text>
<text x="586" y="332" font-size="36">MP*1</text>
<text x="757" y="300" font-size="16.8">MP*1</text>
<text x="288" y="354" font-size="68.4">MP*1</text>
<text x="391" y="375" font-size="33.6">MP*1</text>
<text x="568" y="417" font-size="42">MP*1</text>
<text x="227" y="468" font-size="60">MP*1</text>
<text x="333" y="452" font-size="36">MP*1</text>
<text x="567" y="543" font-size="39.6">MP*1</text>
<text x="194" y="609" font-size="54">MP*1</text>
<text x="806" y="58" font-size="3.6">MP*2</text>
<text x="954" y="57" font-size="9.6">MP*2</text>
<text x="1055" y="89" font-size="10.8">MP*2</text>
<text x="1161" y="129" font-size="27.6">MP*2</text>
<text x="1101" y="152" font-size="32.4">MP*2</text>
<text x="1227" y="175" font-size="50.4">MP*2</text>
<text x="952" y="203" font-size="51.6">MP*2</text>
<text x="1056" y="210" font-size="32.4">MP*2</text>
<text x="1018" y="165" font-size="18">MP*2</text>
<text x="1155" y="197" font-size="12">MP*2</text>
<text x="1340" y="212" font-size="32.4">MP*2</text>
<text x="1108" y="262" font-size="22.8">MP*2</text>
<text x="1163" y="240" font-size="26.4">MP*2</text>
<text x="1270" y="249" font-size="18">MP*2</text>
<text x="849" y="284" font-size="68.4">MP*2</text>
<text x="1023" y="308" font-size="67.2">MP*2</text>
<text x="1217" y="286" font-size="36">MP*2</text>
<text x="1339" y="291" font-size="18">MP*2</text>
<text x="1169" y="309" font-size="13.2">MP*2</text>
<text x="1281" y="329" font-size="31.2">MP*2</text>
<text x="1393" y="332" font-size="32.4">MP*2</text>
<text x="731" y="357" font-size="38.4">MP*2</text>
<text x="646" y="358" font-size="15.6">MP*2</text>
<text x="1221" y="369" font-size="32.4">MP*2</text>
<text x="197" y="380" font-size="26.4">MP*2</text>
<text x="816" y="409" font-size="50.4">MP*2</text>
<text x="930" y="399" font-size="55.2">MP*2</text>
<text x="669" y="430" font-size="48">MP*2</text>
<text x="1003" y="430" font-size="19.2">MP*2</text>
<text x="1076" y="448" font-size="39.6">MP*2</text>
<text x="1192" y="437" font-size="36">MP*2</text>
<text x="951" y="480" font-size="21.6">MP*2</text>
<text x="1256" y="465" font-size="27.6">MP*2</text>
<text x="1381" y="463" font-size="24">MP*2</text>
<text x="344" y="560" font-size="44.4">MP*2</text>
<text x="1133" y="366" font-size="48">PC</text>
<text x="1322" y="408" font-size="50.4">PC</text>
<text x="1010" y="490" font-size="32.4">PC</text>
<text x="1141" y="476" font-size="22.8">PC</text>
<text x="1113" y="541" font-size="39.6">PC</text>
<text x="1205" y="524" font-size="42">PC</text>
<text x="1325" y="548" font-size="69.6">PC</text>
<text x="1020" y="588" font-size="55.2">PC</text>
<text x="1443" y="592" font-size="45.6">PC</text>
<text x="907" y="631" font-size="50.4">PC</text>
<text x="1207" y="638" font-size="60">PC</text>
<text x="1087" y="691" font-size="58.8">PC</text>
<text x="1313" y="661" font-size="32.4">PC</text>
<text x="1389" y="664" font-size="36">PC</text>
<text x="960" y="735" font-size="60">PC</text>
<text x="1346" y="716" font-size="20.4">PC</text>
<text x="1281" y="733" font-size="38.4">PC</text>
<text x="823" y="793" font-size="54">PC</text>
<text x="1059" y="806" font-size="50.4">PC</text>
<text x="1180" y="781" font-size="62.4">PC</text>
<text x="1375" y="787" font-size="45.6">PC</text>
<text x="693" y="808" font-size="18">PC</text>
<text x="1265" y="793" font-size="13.2">PC</text>
<text x="1300" y="816" font-size="21.6">PC</text>
<text x="921" y="842" font-size="48">PC</text>
<text x="1256" y="835" font-size="18">PC</text>
<text x="759" y="879" font-size="42">PC</text>
<text x="847" y="902" font-size="42">PC</text>
<text x="1003" y="889" font-size="38.4">PC</text>
<text x="1104" y="903" font-size="48">PC</text>
<text x="1169" y="873" font-size="16.8">PC</text>
<text x="1209" y="945" font-size="57.6">PC</text>
<text x="929" y="920" font-size="24">PC</text>
<text x="969" y="942" font-size="14.4">PC</text>
<text x="1019" y="957" font-size="21.6">PC</text>
<text x="969" y="1002" font-size="36">PC</text>
<text x="1087" y="1014" font-size="57.6">PC</text>
<text x="1184" y="1047" font-size="38.4">PC</text>
<text x="454" y="483" font-size="78">PSI*</text>
<text x="590" y="476" font-size="9.6">PSI*</text>
<text x="626" y="500" font-size="26.4">PSI*</text>
<text x="704" y="531" font-size="45.6">PSI*</text>
<text x="789" y="498" font-size="32.4">PSI*</text>
<text x="873" y="494" font-size="42">PSI*</text>
<text x="934" y="547" font-size="30">PSI*</text>
<text x="264" y="556" font-size="26.4">PSI*</text>
<text x="286" y="607" font-size="21.6">PSI*</text>
<text x="443" y="583" font-size="3.6">PSI*</text>
<text x="634" y="589" font-size="32.4">PSI*</text>
<text x="810" y="585" font-size="45.6">PSI*</text>
<text x="383" y="626" font-size="24">PSI*</text>
<text x="468" y="646" font-size="26.4">PSI*</text>
<text x="557" y="641" font-size="51.6">PSI*</text>
<text x="623" y="635" font-size="6">PSI*</text>
<text x="667" y="657" font-size="32.4">PSI*</text>
<text x="728" y="618" font-size="32.4">PSI*</text>
<text x="818" y="677" font-size="36">PSI*</text>
<text x="300" y="685" font-size="45.6">PSI*</text>
<text x="410" y="686" font-size="27.6">PSI*</text>
<text x="491" y="728" font-size="37.2">PSI*</text>
<text x="544" y="711" font-size="12">PSI*</text>
<text x="734" y="716" font-size="45.6">PSI*</text>
<text x="871" y="720" font-size="24">PSI*</text>
<text x="617" y="755" font-size="66">PSI*</text>
<text x="231" y="749" font-size="39.6">PSI*</text>
<text x="348" y="748" font-size="25.2">PSI*</text>
<text x="419" y="787" font-size="49.2">PSI*</text>
<text x="519" y="799" font-size="31.2">PSI*</text>
<text x="325" y="788" font-size="7.2">PSI*</text>
<text x="724" y="787" font-size="15.6">PSI*</text>
<text x="128" y="734" font-size="9.6">PSI*</text>
<text x="101" y="772" font-size="18">PSI*</text>
<text x="285" y="825" font-size="39.6">PSI*</text>
<text x="204" y="693" font-size="2.4">PSI*</text>
<text x="414" y="846" font-size="6">PSI*</text>
<text x="469" y="894" font-size="61.2">PSI*</text>
<text x="576" y="862" font-size="37.2">PSI*</text>
<text x="668" y="868" font-size="36">PSI*</text>
<text x="365" y="865" font-size="38.4">PC*</text>
<text x="308" y="918" font-size="33.6">PC*</text>
<text x="380" y="967" font-size="43.2">PC*</text>
<text x="746" y="818" font-size="14.4">PC*</text>
<text x="614" y="927" font-size="31.2">PC*</text>
<text x="705" y="925" font-size="21.6">PC*</text>
<text x="490" y="974" font-size="14.4">PC*</text>
<text x="557" y="982" font-size="42">PC*</text>
<text x="670" y="990" font-size="46.8">PC*</text>
<text x="764" y="972" font-size="42">PC*</text>
<text x="838" y="983" font-size="30">PC*</text>
<text x="912" y="967" font-size="16.8">PC*</text>
<text x="473" y="1010" font-size="22.8">PC*</text>
<text x="607" y="1021" font-size="16.8">PC*</text>
<text x="730" y="1028" font-size="20.4">PC*</text>
<text x="803" y="1010" font-size="10.8">PC*</text>
<text x="893" y="1016" font-size="27.6">PC*</text>
<text x="1008" y="1028" font-size="6">PC*</text>
<text x="515" y="1050" font-size="28.8">PC*</text>
<text x="810" y="1050" font-size="26.4">PC*</text>
<text x="718" y="1065" font-size="18">PC*</text>
<text x="550" y="1079" font-size="12">PC*</text>
<text x="439" y="1071" font-size="26.4">PC*</text>
<text x="648" y="1081" font-size="22.8">PC*</text>
<text x="756" y="1093" font-size="25.2">PC*</text>
<text x="841" y="1088" font-size="16.8">PC*</text>
<text x="935" y="1077" font-size="38.4">PC*</text>
<text x="1010" y="1084" font-size="22.8">PC*</text>
<text x="1092" y="1101" font-size="13.2">PC*</text>
<text x="593" y="1133" font-size="45.6">PC*</text>
<text x="708" y="1132" font-size="25.2">PC*</text>
<text x="910" y="1140" font-size="22.8">PC*</text>
<text x="996" y="1166" font-size="42">PC*</text>
<text x="1283" y="884" font-size="31.2">PC*</text>
<text x="1315" y="947" font-size="32.4">PC*</text>
</g>
</g>
</svg>
